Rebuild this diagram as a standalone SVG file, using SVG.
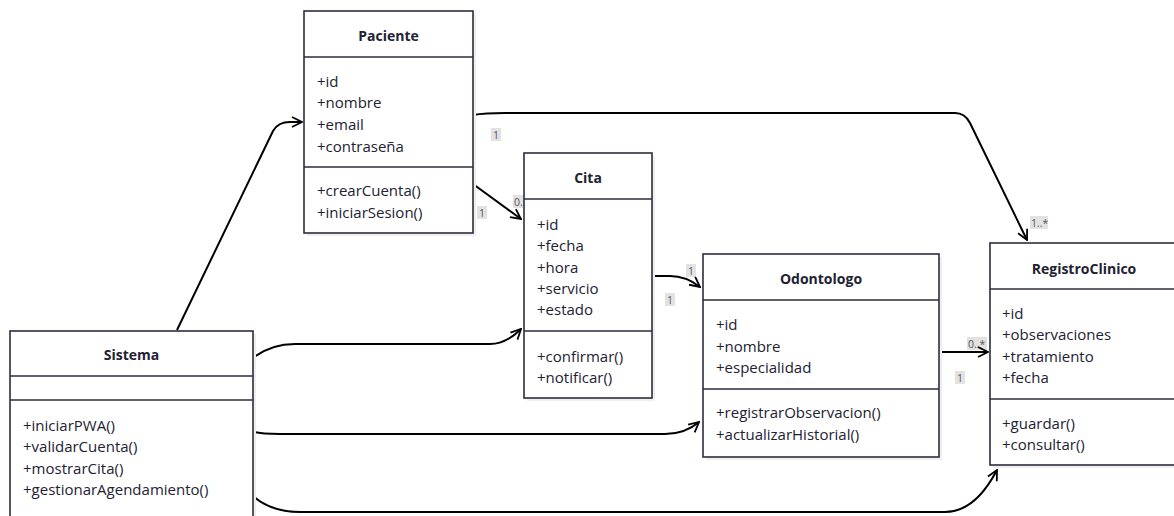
<svg xmlns="http://www.w3.org/2000/svg" width="1174" height="516" viewBox="0 0 1174 516">
  <style>
    .box { fill: #ffffff; stroke: #2c2c3e; stroke-width: 1.6; }
    .shadow { fill: #efefef; }
    .sep { stroke: #2c2c3e; stroke-width: 1.6; }
    .title { font-family: "Open Sans", "Noto Sans", sans-serif; font-size: 14px; font-weight: bold; fill: #222233; text-anchor: middle; dominant-baseline: central; }
    .member { font-family: "Open Sans", "Noto Sans", sans-serif; font-size: 15px; fill: #222233; dominant-baseline: central; }
    .edge { fill: none; stroke: #000000; stroke-width: 2; }
    .lblbg { fill: #e2e2e2; }
    .lbl { font-family: "Open Sans", "Noto Sans", sans-serif; font-size: 10.5px; fill: #555555; dominant-baseline: central; }
  </style>
  <defs>
    <marker id="arrow" viewBox="0 0 12 12" refX="11" refY="6" markerWidth="12" markerHeight="12" markerUnits="userSpaceOnUse" orient="auto">
      <path d="M1,1 L11,6 L1,11" fill="none" stroke="#000000" stroke-width="1.8"/>
    </marker>
  </defs>

  <!-- multiplicity labels sit under the class boxes -->
  <g id="labels">
    <rect class="lblbg" x="491" y="128" width="10" height="13"/>
    <text class="lbl" x="493" y="134.5">1</text>
    <rect class="lblbg" x="1030" y="216" width="18" height="13"/>
    <text class="lbl" x="1031" y="222.5">1..*</text>
    <rect class="lblbg" x="477" y="206" width="10" height="13"/>
    <text class="lbl" x="479" y="212.5">1</text>
    <rect class="lblbg" x="513" y="195" width="18" height="13"/>
    <text class="lbl" x="514" y="201.5">0..*</text>
    <rect class="lblbg" x="686" y="264" width="10" height="13"/>
    <text class="lbl" x="688" y="270.5">1</text>
    <rect class="lblbg" x="665" y="293" width="10" height="13"/>
    <text class="lbl" x="667" y="299.5">1</text>
    <rect class="lblbg" x="967" y="337" width="20" height="13"/>
    <text class="lbl" x="968" y="343.5">0..*</text>
    <rect class="lblbg" x="955" y="371" width="10" height="13"/>
    <text class="lbl" x="957" y="377.5">1</text>
  </g>

  <g id="connectors">
    <!-- Sistema -> Paciente -->
    <path class="edge" d="M177,330 L273,131 Q278,122 290,122 L302,122" marker-end="url(#arrow)"/>
    <!-- Paciente -> RegistroClinico -->
    <path class="edge" d="M473,115 Q485,113 505,113 L955,113 Q965,113 970,123 L1027,240" marker-end="url(#arrow)"/>
    <!-- Paciente -> Cita -->
    <path class="edge" d="M473,184 L521,219" marker-end="url(#arrow)"/>
    <!-- Cita -> Odontologo -->
    <path class="edge" d="M652,276 L670,276 Q686,276 700,287" marker-end="url(#arrow)"/>
    <!-- Odontologo -> RegistroClinico -->
    <path class="edge" d="M939,352 L988,352" marker-end="url(#arrow)"/>
    <!-- Sistema -> Cita -->
    <path class="edge" d="M254,357 Q272,344 295,344 L490,344 Q506,344 521,329" marker-end="url(#arrow)"/>
    <!-- Sistema -> Odontologo -->
    <path class="edge" d="M254,432 Q262,434 280,434 L665,434 Q685,434 699,422" marker-end="url(#arrow)"/>
    <!-- Sistema -> RegistroClinico -->
    <path class="edge" d="M254,497 Q272,512 300,512 L945,512 Q975,512 997,470" marker-end="url(#arrow)"/>
  </g>

  <g id="Paciente">
    <rect class="shadow" x="307" y="14" width="169" height="222"/>
    <rect class="box" x="304" y="11" width="169" height="222"/>
    <line class="sep" x1="304" y1="57" x2="473" y2="57"/>
    <line class="sep" x1="304" y1="167" x2="473" y2="167"/>
    <text class="title" x="388.5" y="35">Paciente</text>
    <text class="member" x="317" y="81">+id</text>
    <text class="member" x="317" y="102">+nombre</text>
    <text class="member" x="317" y="124">+email</text>
    <text class="member" x="317" y="146">+contraseña</text>
    <text class="member" x="317" y="190">+crearCuenta()</text>
    <text class="member" x="317" y="212">+iniciarSesion()</text>
  </g>

  <g id="Cita">
    <rect class="shadow" x="527" y="156" width="128" height="245"/>
    <rect class="box" x="524" y="153" width="128" height="245"/>
    <line class="sep" x1="524" y1="199" x2="652" y2="199"/>
    <line class="sep" x1="524" y1="331" x2="652" y2="331"/>
    <text class="title" x="588" y="177">Cita</text>
    <text class="member" x="537" y="224">+id</text>
    <text class="member" x="537" y="245">+fecha</text>
    <text class="member" x="537" y="267">+hora</text>
    <text class="member" x="537" y="288">+servicio</text>
    <text class="member" x="537" y="309">+estado</text>
    <text class="member" x="537" y="356">+confirmar()</text>
    <text class="member" x="537" y="377">+notificar()</text>
  </g>

  <g id="Odontologo">
    <rect class="shadow" x="706" y="257" width="236" height="203"/>
    <rect class="box" x="703" y="254" width="236" height="203"/>
    <line class="sep" x1="703" y1="300" x2="939" y2="300"/>
    <line class="sep" x1="703" y1="389" x2="939" y2="389"/>
    <text class="title" x="821" y="278">Odontologo</text>
    <text class="member" x="716" y="324">+id</text>
    <text class="member" x="716" y="346">+nombre</text>
    <text class="member" x="716" y="367">+especialidad</text>
    <text class="member" x="716" y="412">+registrarObservacion()</text>
    <text class="member" x="716" y="434">+actualizarHistorial()</text>
  </g>

  <g id="RegistroClinico">
    <rect class="shadow" x="993" y="246" width="188" height="222"/>
    <rect class="box" x="990" y="243" width="188" height="222"/>
    <line class="sep" x1="990" y1="289" x2="1178" y2="289"/>
    <line class="sep" x1="990" y1="399" x2="1178" y2="399"/>
    <text class="title" x="1084" y="268">RegistroClinico</text>
    <text class="member" x="1002" y="313">+id</text>
    <text class="member" x="1002" y="334">+observaciones</text>
    <text class="member" x="1002" y="356">+tratamiento</text>
    <text class="member" x="1002" y="377">+fecha</text>
    <text class="member" x="1002" y="423">+guardar()</text>
    <text class="member" x="1002" y="444">+consultar()</text>
  </g>

  <g id="Sistema">
    <rect class="shadow" x="13" y="334" width="243" height="200"/>
    <rect class="box" x="10" y="331" width="243" height="200"/>
    <line class="sep" x1="10" y1="376" x2="253" y2="376"/>
    <line class="sep" x1="10" y1="400" x2="253" y2="400"/>
    <text class="title" x="131.5" y="354">Sistema</text>
    <text class="member" x="23" y="425">+iniciarPWA()</text>
    <text class="member" x="23" y="446">+validarCuenta()</text>
    <text class="member" x="23" y="468">+mostrarCita()</text>
    <text class="member" x="23" y="489">+gestionarAgendamiento()</text>
  </g>
</svg>
